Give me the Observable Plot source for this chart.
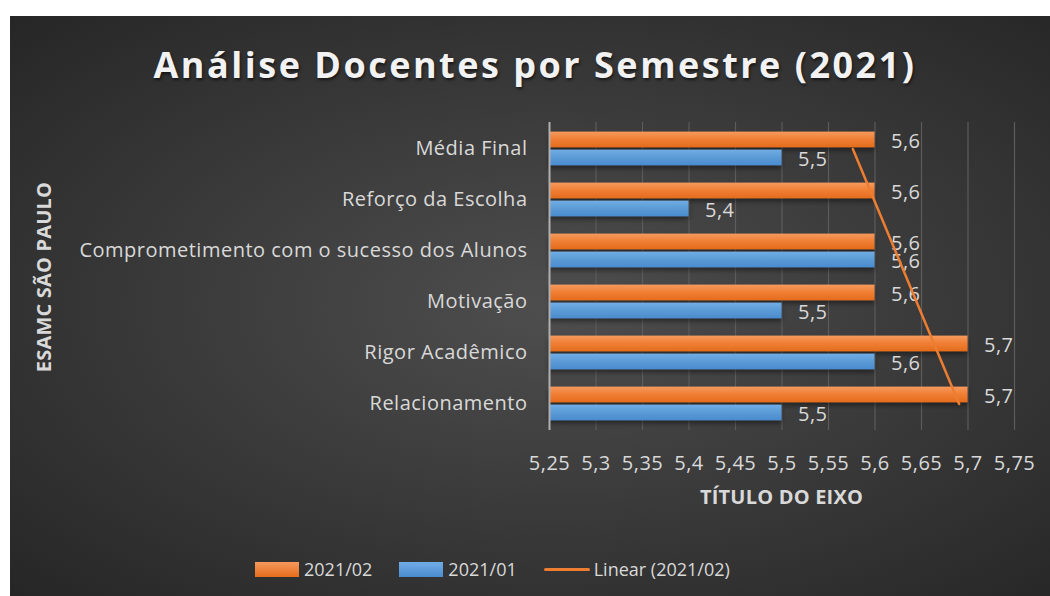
<!DOCTYPE html>
<html>
<head>
<meta charset="utf-8">
<script src="https://cdn.jsdelivr.net/npm/d3@7"></script>
<script src="https://cdn.jsdelivr.net/npm/@observablehq/plot@0.6"></script>
<style>
  html, body { margin: 0; padding: 0; background: #ffffff; }
  body { width: 1050px; height: 596px; position: relative; overflow: hidden; font-family: "Open Sans", sans-serif; }
  #chart { position: absolute; left: 10px; top: 16px; width: 1040px; height: 580px;
    background: radial-gradient(ellipse at 52% 50%, #4e4e4e 0%, #3c3c3c 45%, #262626 100%); }
  #title { position: absolute; left: 0; width: 1050px; top: 24px; text-align: center; color: #f2f2f2;
    font-weight: 700; font-size: 36px; letter-spacing: 2.5px; line-height: 50px;
    text-shadow: 1px 2px 3px rgba(0,0,0,0.6); }
  #plot { position: absolute; left: 0; top: 0; }
  #xtitle { position: absolute; left: 539px; width: 465px; top: 469px; text-align: center; color: #d9d9d9;
    font-weight: 700; font-size: 20px; line-height: 24px; letter-spacing: 0.2px; }
  #ytitle { position: absolute; left: 34px; top: 261px; transform: translate(-50%, -50%) rotate(-90deg);
    white-space: nowrap; color: #d9d9d9; font-weight: 700; font-size: 20px; line-height: 24px; letter-spacing: 0.2px; }
  #legend { position: absolute; left: 245px; top: 541px; display: flex; align-items: center; color: #d9d9d9; font-size: 18px; line-height: 24px; }
  .item { display: flex; align-items: center; margin-right: 27px; }
  .sw { width: 44px; height: 15px; margin-right: 5px; }
  .ln { width: 46px; height: 0; border-top: 3px solid #ED7D31; border-radius: 2px; margin-right: 4px; }
</style>
</head>
<body>
<div id="chart">
  <div id="plot"></div>
  <div id="title">Análise Docentes por Semestre (2021)</div>
  <div id="xtitle">TÍTULO DO EIXO</div>
  <div id="ytitle">ESAMC SÃO PAULO</div>
  <div id="legend"></div>
</div>
<script>
// ---- data ----
const categories = ["Média Final", "Reforço da Escolha", "Comprometimento com o sucesso dos Alunos", "Motivação", "Rigor Acadêmico", "Relacionamento"];
const series = ["2021/02", "2021/01"];
const values2021_02 = [5.6, 5.6, 5.6, 5.6, 5.7, 5.7];
const values2021_01 = [5.5, 5.4, 5.6, 5.5, 5.6, 5.5];
const xTicks = [5.25, 5.3, 5.35, 5.4, 5.45, 5.5, 5.55, 5.6, 5.65, 5.7, 5.75];
const trendLabel = "Linear (2021/02)";
const colors = { "2021/02": "#ED7D31", "2021/01": "#5B9BD5" };

const fmt = d => String(d).replace(".", ",");
const xMin = xTicks[0], xMax = xTicks[xTicks.length - 1];

const dO = categories.map((c, i) => ({ cat: c, v: values2021_02[i] }));
const dB = categories.map((c, i) => ({ cat: c, v: values2021_01[i] }));

// Excel linear trendline: category order is bottom-up (index 1 = last listed)
const n = categories.length;
const xs = categories.map((c, i) => n - i);
const mx = d3.mean(xs), my = d3.mean(values2021_02);
const slope = d3.sum(xs, (x, i) => (x - mx) * (values2021_02[i] - my)) / d3.sum(xs, x => (x - mx) ** 2);
const trend = categories.map((c, i) => ({ cat: c, v: my + slope * (xs[i] - mx) }));

const plot = Plot.plot({
  width: 1040,
  height: 510,
  marginLeft: 539,
  marginRight: 36,
  marginTop: 106,
  marginBottom: 96,
  style: { background: "transparent", color: "#d9d9d9", fontFamily: "'Open Sans', sans-serif", fontSize: "20px", letterSpacing: "0.5px" },
  x: { domain: [xMin, xMax], ticks: xTicks, tickFormat: fmt, tickSize: 0, tickPadding: 25, label: null },
  y: { domain: categories, padding: 0, tickSize: 0, tickPadding: 22, label: null },
  marks: [
    Plot.ruleX(xTicks.slice(1), { stroke: "#5c5c5c", strokeWidth: 1.2 }),
    Plot.barX(dO, { x1: xMin, x2: "v", y: "cat", fill: "url(#gradO)", insetTop: 8.6, insetBottom: 26.7 }),
    Plot.barX(dB, { x1: xMin, x2: "v", y: "cat", fill: "url(#gradB)", insetTop: 26.6, insetBottom: 8.7 }),
    Plot.ruleX([xMin], { stroke: "#b0b0b0", strokeWidth: 2 }),
    Plot.text(dO, { x: "v", y: "cat", text: d => fmt(d.v), dx: 16, dy: -7, textAnchor: "start", fill: "#d9d9d9", fontSize: 20 }),
    Plot.text(dB, { x: "v", y: "cat", text: d => fmt(d.v), dx: 16, dy: 11, textAnchor: "start", fill: "#d9d9d9", fontSize: 20 }),
    Plot.line(trend, { x: "v", y: "cat", stroke: colors["2021/02"], strokeWidth: 2.5, strokeLinecap: "round" })
  ]
});

const svg = d3.select(plot);
const defs = svg.insert("defs", ":first-child");
defs.html(`
  <linearGradient id="gradO" x1="0" y1="0" x2="0" y2="1">
    <stop offset="0" stop-color="#F59A5E"/><stop offset="0.5" stop-color="#F07E33"/><stop offset="1" stop-color="#E46C1C"/>
  </linearGradient>
  <linearGradient id="gradB" x1="0" y1="0" x2="0" y2="1">
    <stop offset="0" stop-color="#71ADE6"/><stop offset="0.5" stop-color="#5B9BD5"/><stop offset="1" stop-color="#4A8BD0"/>
  </linearGradient>
  <filter id="shadow" x="-5%" y="-30%" width="110%" height="180%">
    <feDropShadow dx="0" dy="3" stdDeviation="2.5" flood-color="#000" flood-opacity="0.45"/>
  </filter>`);
svg.selectAll('g[aria-label="bar"]').attr("filter", "url(#shadow)");
document.getElementById("plot").appendChild(plot);

// legend
const legend = d3.select("#legend");
series.forEach(s => {
  const it = legend.append("div").attr("class", "item");
  it.append("div").attr("class", "sw").style("background", s === "2021/02"
    ? "linear-gradient(#F59A5E, #E46C1C)" : "linear-gradient(#71ADE6, #4A8BD0)");
  it.append("span").text(s);
});
const it3 = legend.append("div").attr("class", "item");
it3.append("div").attr("class", "ln");
it3.append("span").text(trendLabel);
</script>
</body>
</html>
